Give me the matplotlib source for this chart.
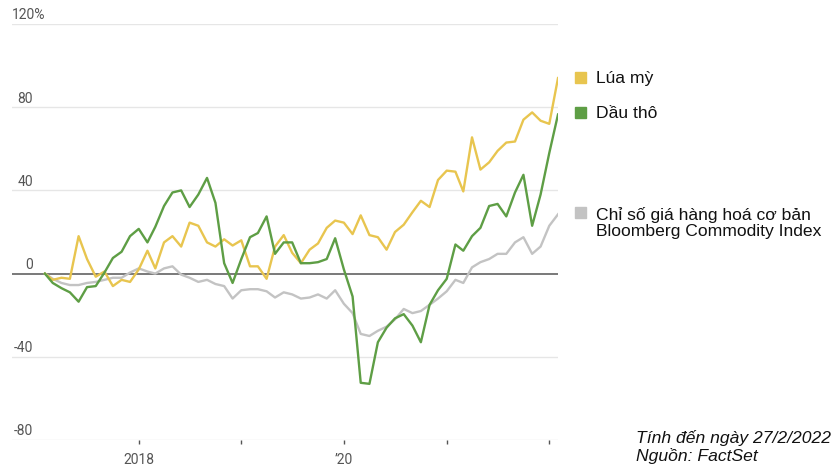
import matplotlib
matplotlib.use("Agg")
import matplotlib.pyplot as plt
import matplotlib.dates as mdates
from matplotlib.patches import Rectangle
import pandas as pd

# monthly % change since Feb 2017
months = pd.date_range("2017-02-01", periods=61, freq="MS")

wheat = [0, -3, -2, -2.5, 18, 7, -1.5, 1, -6, -3, -4, 2, 11, 2.5, 15, 18,
         13, 24.5, 23, 15, 13, 16.5, 13.5, 16, 3.5, 3.5, -2.5, 13, 18.5, 10,
         5, 11.5, 14.5, 22, 25.5, 24.5, 19, 28, 18.5, 17.5, 11.5, 20, 23.5,
         29.5, 35, 32, 45, 49.5, 49, 39.5, 65.5, 50, 53.5, 59, 63, 63.5, 74,
         77.5, 73.5, 72, 94]
oil = [0, -4.5, -7, -9, -13.5, -6.5, -6, 0.5, 7.5, 10.5, 18, 21.5, 15, 22.5,
       32.5, 39, 40, 32, 38, 46, 34, 5, -4.5, 7, 17.5, 19.5, 27.5, 9.5, 15,
       15, 5, 5, 5.5, 7, 17, 2, -11, -52.5, -53, -33, -26, -21.5, -19.5, -25,
       -33, -15, -8, -2.5, 14, 11, 18, 22, 32.5, 33.5, 27.5, 39, 47.5, 23,
       38, 58, 76.5]
bcom = [0, -2.5, -4.5, -5.5, -5.5, -4.5, -4, -3, -2, -2, 0.5, 2.5, 1, 0, 2.5,
        3.5, -0.5, -2, -4, -3, -5, -6, -12, -8, -7.5, -7.5, -8.5, -11.5, -9,
        -10, -12, -11.5, -10, -12, -8, -14.5, -19, -29, -30, -27.5, -25.5,
        -22, -17, -19, -18, -15, -12, -8.5, -3, -4.5, 3, 5.5, 7, 9.5, 9.5, 15,
        17.5, 9.5, 13, 23, 28.5]

y_ticks = [120, 80, 40, 0, -40, -80]
x_ticks = pd.to_datetime(["2018-01-01", "2019-01-01", "2020-01-01",
                          "2021-01-01", "2022-01-01"])
x_labels = ["2018", "", "\u201920", "", ""]

legend_labels = ["Lúa mỳ", "Dầu thô",
                 "Chỉ số giá hàng hoá cơ bản\nBloomberg Commodity Index"]

c_wheat = "#e8c54f"
c_oil = "#5e9e45"
c_bcom = "#c3c3c3"

W, H = 839, 466
fig = plt.figure(figsize=(W / 100, H / 100), dpi=100)
ax = fig.add_axes([12 / W, 1 - 440 / H, (558 - 12) / W, (440 - 24) / H])

for v in y_ticks:
    if v == 0:
        ax.axhline(v, color="#555555", lw=1.1, zorder=1)
    else:
        ax.axhline(v, color="#e6e6e6", lw=1.0, zorder=0)

ax.plot(months, bcom, color=c_bcom, lw=1.7, zorder=2)
ax.plot(months, wheat, color=c_wheat, lw=1.7, zorder=3)
ax.plot(months, oil, color=c_oil, lw=1.7, zorder=4)

ax.set_ylim(-80, 120)
ax.set_xlim(mdates.date2num(months[0]) - 117, mdates.date2num(months[-1]))

for s in ax.spines.values():
    s.set_visible(False)
ax.set_yticks([])
ax.set_xticks(x_ticks)
ax.set_xticklabels(x_labels, fontfamily="Roboto", fontsize=10, color="#555555")
ax.tick_params(axis="x", length=3, width=1, color="#555555", pad=6)

# y labels sit above their gridlines, right-aligned
tr = ax.get_yaxis_transform()
for v in y_ticks:
    if v == 120:
        ax.text(0, v + 0.8, f"{v}%", transform=tr, ha="left", va="bottom",
                fontfamily="Roboto", fontsize=10, color="#555555")
    else:
        ax.text(21 / 546, v + 0.8, str(v), transform=tr, ha="right",
                va="bottom", fontfamily="Roboto", fontsize=10,
                color="#555555")

# legend
leg_y = [78, 113, 213]
for lab, col, yy in zip(legend_labels, [c_wheat, c_oil, c_bcom], leg_y):
    fig.patches.append(Rectangle((575 / W, 1 - (yy + 5) / H), 11 / W, 11 / H,
                                 transform=fig.transFigure, color=col))
    ytxt = yy + 10 if "\n" in lab else yy
    fig.text(596 / W, 1 - ytxt / H, lab, ha="left", va="center",
             fontfamily="Liberation Sans", fontsize=12.6, color="#111111",
             linespacing=1.1)

fig.text(636 / W, 1 - 447 / H, "Tính đến ngày 27/2/2022\nNguồn: FactSet",
         ha="left", va="center", fontfamily="Liberation Sans", style="italic",
         fontsize=12.6, color="#111111", linespacing=1.1)

fig.savefig("out.png", dpi=100)
